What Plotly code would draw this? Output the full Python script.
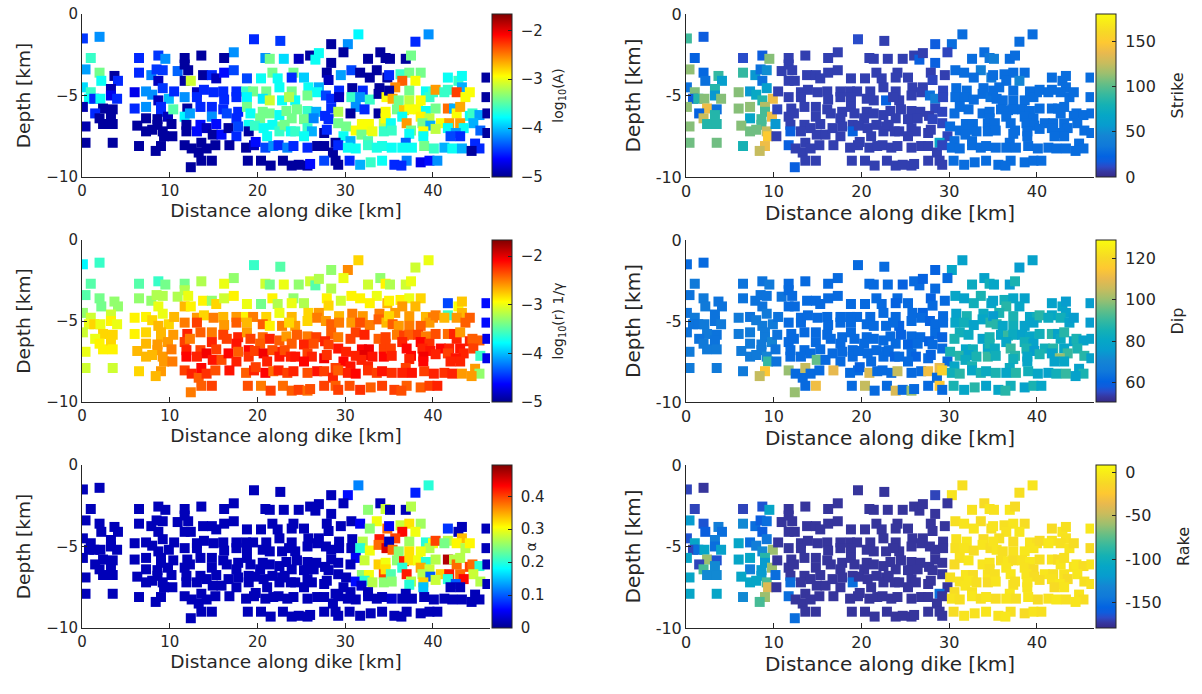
import plotly.graph_objects as go

# ---------------- data (one entry per event, same order in all lists) ----------------
x_km = [
    0.1, 2.0, 1.0, 0.4, 2.0, 2.2, 3.7, 4.1, 0.1, 1.0, 0.8, 1.4, 2.1, 3.3, 3.3, 4.0, 0.1, 2.4, 3.5, 1.5,
    2.0, 2.4, 3.3, 3.5, 0.4, 0.4, 3.5, 6.5, 8.7, 9.5, 6.5, 7.9, 8.5, 9.2, 8.7, 9.2, 10.9, 6.0, 7.3, 8.0,
    8.7, 9.9, 10.5, 6.0, 7.3, 9.0, 9.0, 9.8, 10.4, 7.3, 6.3, 7.3, 8.6, 8.6, 9.2, 10.2, 9.35, 10.3, 6.5, 9.0,
    8.4, 8.0,
    19.6, 22.6, 17.3, 13.6, 16.2, 11.7, 20.9, 21.4, 23.0, 11.7, 12.1, 13.8, 14.8, 15.3, 16.2, 17.3, 18.8, 20.4, 21.7, 22.3,
    11.7, 12.4, 22.5, 13.1, 13.9, 15.0, 16.1, 17.6, 18.7, 19.5, 21.0, 11.7, 13.1, 16.2, 17.6, 18.8, 20.6, 21.4, 22.8,
    12.0, 13.5, 14.8, 16.1, 17.8, 18.8, 19.2, 20.6, 21.4, 22.5, 11.7, 12.3, 14.8, 16.5, 17.6, 20.3, 22.8,
    11.9, 11.9, 13.5, 13.1, 14.2, 15.3, 14.9, 15.9, 16.7, 17.6, 17.8, 19.0, 19.0, 19.7, 20.7, 21.1, 21.7, 22.5,
    11.7, 12.5, 13.3, 13.6, 14.2, 15.2, 16.8, 18.7, 19.6, 19.8, 20.9, 21.8, 22.4, 13.6, 14.8, 12.4, 18.9, 20.4, 21.5, 22.9,
    31.5, 30.3, 28.4, 24.7, 26.0, 26.6, 27.0, 29.8, 32.6, 34.0, 34.6, 28.4, 30.7,
    31.7, 33.6, 29.5, 27.9, 24.1, 23.9, 25.3, 28.1, 32.8, 34.8, 25.8, 27.0, 29.3, 30.8, 32.0, 33.9,
    23.9, 24.3, 25.7, 26.8, 27.8, 28.4, 29.3, 30.7, 31.7, 32.8, 33.8, 34.7, 23.6, 31.2, 28.4, 29.2, 32.2, 30.6, 33.8, 23.3,
    24.5, 25.7, 26.7, 27.7, 28.1, 23.9, 25.3, 26.4, 29.2, 30.1, 31.9, 32.7, 31.2, 32.2, 33.1, 34.4, 34.4, 31.85, 23.1, 23.8,
    24.3, 25.7, 26.2, 25.3, 27.6, 27.9, 29.8, 32.6, 30.6, 28.9, 23.4, 24.1, 25.7, 26.8, 27.6, 28.6, 29.2, 30.3, 31.2, 32.6,
    33.6, 34.2, 23.9, 24.7, 25.7, 26.0, 27.6, 28.9, 29.2, 30.5, 31.7, 32.9, 34.2,
    39.5, 38.0, 35.1, 36.9, 37.5, 35.0, 36.3, 37.3, 38.6, 36.5, 38.0, 35.7, 35.0, 41.7, 42.9, 43.3,
    43.3, 46.1, 37.3, 39.2, 40.0, 39.6, 40.3, 41.7, 41.3, 42.7, 43.7, 44.2,
    35.4, 36.1, 37.3, 38.6, 46.1, 34.6, 35.9, 36.7, 37.3, 38.3, 39.2, 40.3, 41.7, 42.4, 42.7, 43.1, 44.2, 44.5, 45.3, 46.2,
    34.6, 36.5, 38.6, 39.6, 37.0, 35.2, 38.8, 39.7, 40.9, 41.85, 43.1, 44.6, 43.5,
    35.3, 37.5, 38.9, 40.3, 41.7, 42.6, 37.3, 38.9, 42.0, 43.1, 45.4, 46.2,
    36.9, 35.3, 36.5, 37.6, 39.0, 40.1, 41.3, 42.2, 43.3, 44.8, 45.3, 44.4,
    37.0, 35.6, 36.4, 38.6, 39.6, 40.5,
]

depth_km = [
    -1.5, -1.4, -2.7, -3.4, -3.6, -4.1, -3.8, -4.1, -4.5, -4.8, -5.2, -5.2, -5.2, -4.6, -5.0, -5.2, -5.7, -5.8, -5.85, -6.1,
    -6.4, -6.75, -6.2, -6.75, -6.9, -7.9, -7.9, -2.7, -2.55, -2.75, -3.6, -3.75, -3.4, -3.45, -4.1, -4.55, -3.5, -4.8, -4.75, -4.95,
    -5.3, -5.2, -4.75, -5.8, -5.7, -5.7, -6.0, -6.3, -5.85, -6.4, -6.85, -7.2, -6.45, -6.8, -7.2, -6.75, -7.5, -7.5, -8.1, -8.1,
    -8.4, -7.1,
    -1.55, -1.65, -2.35, -2.55, -2.7, -2.7, -2.7, -2.75, -2.75, -3.1, -3.45, -3.75, -3.75, -3.95, -3.6, -3.45, -3.95, -3.95, -3.6, -3.95,
    -4.1, -4.1, -4.5, -4.8, -4.65, -4.8, -4.75, -4.75, -4.75, -4.75, -4.75, -5.1, -5.1, -5.25, -5.1, -5.1, -5.2, -5.3, -5.3,
    -5.8, -5.7, -5.7, -5.85, -6.0, -5.7, -6.1, -6.0, -6.1, -6.2, -6.3, -6.1, -6.3, -6.1, -6.4, -6.4, -6.9,
    -6.8, -7.2, -6.8, -7.2, -7.0, -6.75, -7.4, -7.4, -7.0, -7.5, -6.9, -6.8, -7.2, -6.85, -7.0, -7.5, -6.8, -7.2,
    -8.05, -8.25, -8.5, -7.9, -8.25, -8.05, -8.05, -8.2, -8.05, -7.85, -8.2, -8.1, -8.05, -9.0, -9.0, -9.4, -9.0, -9.0, -9.3, -9.0,
    -1.25, -1.85, -1.85, -2.75, -2.55, -2.8, -2.4, -2.35, -2.75, -2.35, -2.7, -3.0, -3.45,
    -3.6, -3.45, -3.75, -3.6, -3.6, -3.9, -3.9, -4.05, -3.9, -3.9, -4.5, -4.5, -4.7, -4.55, -4.7, -4.55,
    -4.75, -5.3, -5.0, -4.8, -5.0, -5.2, -5.1, -5.1, -5.1, -5.25, -4.9, -5.1, -5.1, -5.7, -5.8, -6.0, -5.85, -6.1, -6.1, -5.95,
    -5.85, -5.95, -6.0, -6.25, -6.45, -6.4, -6.45, -6.4, -6.7, -6.9, -6.75, -6.75, -7.15, -7.1, -7.2, -6.7, -7.2, -7.4, -6.8, -7.2,
    -7.2, -7.0, -7.2, -7.5, -7.3, -7.1, -7.5, -7.8, -7.8, -7.9, -8.2, -8.1, -8.2, -8.1, -8.1, -8.5, -8.05, -8.2, -8.25, -8.05,
    -8.2, -8.1, -9.3, -9.25, -9.3, -9.2, -9.0, -9.0, -9.25, -9.0, -9.25, -9.1, -9.0,
    -1.25, -1.7, -2.75, -2.75, -2.55, -3.75, -3.7, -3.6, -3.6, -4.1, -4.1, -4.5, -4.7, -3.9, -4.1, -3.8,
    -4.5, -3.9, -4.7, -4.75, -4.8, -5.1, -4.65, -4.65, -4.8, -4.8, -5.1, -4.8,
    -5.2, -5.3, -5.3, -5.3, -5.1, -6.0, -5.85, -5.9, -5.85, -5.85, -5.95, -5.8, -5.8, -5.8, -6.1, -5.7, -6.25, -6.1, -6.2, -6.1,
    -6.4, -6.3, -6.3, -6.4, -6.7, -6.7, -6.7, -6.85, -6.7, -6.7, -6.7, -6.7, -7.0,
    -7.15, -7.15, -7.2, -7.05, -7.0, -7.3, -7.35, -7.5, -7.5, -7.5, -7.15, -7.3,
    -7.9, -8.2, -8.2, -8.2, -8.1, -8.25, -8.2, -8.25, -8.25, -7.95, -8.25, -8.4,
    -9.0, -9.25, -9.3, -9.1, -9.0, -9.0,
]

log_a = [
    -4.45, -4.15, -3.6, -4.1, -3.4, -3.75, -4.95, -4.5, -3.9, -3.6, -3.75, -4.5, -3.75, -4.9, -4.7, -4.5, -4.9, -4.95, -4.95, -4.5,
    -4.95, -4.95, -4.95, -4.95, -4.9, -4.95, -4.95, -4.5, -4.45, -4.15, -4.5, -4.2, -4.45, -4.45, -4.85, -4.45, -4.3, -4.7, -4.15, -4.15,
    -4.85, -4.0, -4.5, -4.5, -4.15, -4.5, -4.5, -4.85, -3.5, -4.95, -4.95, -4.95, -4.95, -4.95, -4.95, -4.95, -4.95, -4.95, -4.95, -4.95,
    -4.95, -4.95,
    -4.5, -4.45, -4.15, -4.95, -4.95, -4.95, -4.15, -3.4, -3.9, -4.95, -4.95, -4.95, -4.5, -4.85, -4.6, -4.4, -4.4, -3.75, -3.4, -3.75,
    -4.95, -3.1, -3.75, -4.85, -4.5, -4.5, -4.5, -4.5, -3.6, -3.4, -3.4, -4.15, -4.5, -4.5, -4.5, -3.8, -3.85, -3.1, -3.75,
    -4.95, -4.5, -4.5, -4.5, -4.5, -3.4, -3.75, -3.4, -3.4, -3.75, -3.8, -4.1, -4.15, -4.4, -4.5, -3.4, -3.4,
    -4.95, -4.95, -4.6, -4.6, -4.85, -4.6, -4.95, -4.6, -4.95, -4.5, -4.4, -3.75, -4.95, -3.6, -3.75, -3.75, -3.75, -3.6,
    -4.95, -4.95, -4.95, -4.95, -4.95, -4.95, -4.95, -4.95, -4.85, -4.6, -4.4, -4.15, -4.5, -4.95, -4.95, -4.95, -4.95, -4.95, -4.95, -4.95,
    -3.8, -4.15, -4.95, -4.85, -4.95, -3.75, -3.75, -4.95, -4.95, -4.95, -4.95, -4.95, -4.4,
    -4.95, -4.95, -4.1, -4.95, -3.4, -4.5, -3.95, -4.85, -4.95, -4.95, -3.75, -4.05, -4.5, -4.95, -4.5, -4.95,
    -3.4, -3.75, -3.4, -3.75, -4.4, -4.5, -4.85, -3.6, -4.15, -3.6, -4.95, -2.95, -3.2, -4.15, -4.5, -3.2, -4.5, -4.95, -4.95, -3.4,
    -3.4, -3.6, -4.05, -4.5, -4.5, -3.4, -3.4, -4.2, -3.4, -3.4, -2.95, -2.95, -2.95, -2.95, -3.0, -3.15, -3.6, -3.4, -3.4, -3.75,
    -3.6, -3.6, -4.05, -3.75, -4.95, -4.5, -3.75, -3.5, -4.05, -4.95, -4.2, -4.5, -4.5, -4.95, -4.95, -4.95, -4.5, -3.75, -3.75, -3.6,
    -3.7, -3.7, -4.95, -4.95, -4.95, -4.6, -4.4, -4.95, -4.95, -4.5, -4.05, -3.6, -3.75,
    -4.15, -4.5, -4.95, -4.95, -3.4, -4.5, -3.6, -3.4, -3.4, -2.4, -2.95, -2.55, -4.95, -3.75, -3.6, -3.75,
    -4.05, -4.95, -3.4, -3.75, -3.6, -3.6, -2.6, -3.6, -3.6, -2.3, -2.95, -2.95,
    -2.65, -3.4, -3.15, -2.95, -4.95, -2.95, -3.4, -2.75, -2.95, -2.95, -3.75, -3.4, -2.45, -4.05, -2.95, -2.65, -3.75, -3.6, -4.1, -4.95,
    -2.95, -3.75, -2.9, -3.15, -2.6, -3.75, -3.4, -4.05, -2.95, -2.6, -2.6, -4.05, -3.75,
    -3.6, -3.4, -2.95, -3.15, -3.75, -4.1, -3.75, -3.75, -4.4, -4.5, -4.3, -4.95,
    -4.3, -3.75, -3.75, -3.75, -3.4, -3.6, -4.05, -3.75, -4.05, -4.5, -4.5, -4.95,
    -4.2, -4.5, -4.5, -4.7, -4.6, -4.15,
]

log_r = [
    -3.8, -3.6, -3.5, -3.5, -3.4, -3.4, -3.3, -3.3, -3.3, -3.1, -3.0, -2.8, -3.0, -3.1, -2.9, -3.0, -3.1, -2.8, -2.8, -3.0,
    -2.9, -2.9, -2.8, -2.9, -3.0, -3.1, -3.1, -3.5, -3.6, -3.4, -3.3, -3.3, -3.2, -3.2, -3.0, -3.0, -3.2, -2.9, -2.9, -2.8,
    -2.7, -2.8, -2.7, -2.9, -2.8, -2.7, -2.7, -2.6, -2.6, -2.7, -2.7, -2.7, -2.6, -2.6, -2.6, -2.5, -2.6, -2.5, -2.8, -2.6,
    -2.7, -2.7,
    -3.6, -3.5, -3.3, -3.2, -3.0, -3.4, -3.1, -3.4, -3.0, -3.2, -3.0, -2.9, -3.3, -2.8, -3.1, -2.9, -3.0, -3.4, -2.9, -3.2,
    -2.7, -2.9, -3.0, -2.6, -2.8, -2.5, -2.7, -2.6, -2.9, -2.5, -2.8, -2.5, -2.3, -2.6, -2.4, -2.7, -2.4, -2.9, -2.5,
    -2.2, -2.4, -2.5, -2.3, -2.2, -2.6, -2.3, -2.45, -2.2, -2.4, -2.3, -2.5, -2.2, -2.3, -2.15, -2.4, -2.2,
    -2.2, -2.1, -2.3, -2.2, -2.05, -2.3, -2.15, -2.35, -2.1, -2.2, -2.4, -2.1, -2.25, -2.3, -2.05, -2.2, -2.35, -2.15,
    -2.3, -2.2, -2.4, -2.1, -2.25, -2.35, -2.15, -2.4, -2.2, -2.3, -2.1, -2.45, -2.2, -2.4, -2.3, -2.5, -2.35, -2.5, -2.3, -2.45,
    -2.8, -2.55, -3.3, -3.3, -3.1, -3.5, -3.2, -3.0, -3.1, -3.3, -2.9, -3.2, -2.9,
    -2.9, -3.0, -3.1, -2.9, -3.3, -3.0, -3.2, -2.8, -2.9, -2.7, -2.8, -2.6, -2.7, -2.5, -2.6, -2.5,
    -2.7, -2.6, -2.8, -2.5, -2.6, -2.4, -2.5, -2.6, -2.35, -2.5, -2.4, -2.7, -2.8, -2.3, -2.4, -2.5, -2.2, -2.3, -2.4, -2.6,
    -2.4, -2.5, -2.3, -2.2, -2.3, -2.4, -2.2, -2.35, -2.15, -2.2, -2.1, -2.05, -2.2, -2.0, -2.15, -2.3, -2.1, -2.2, -2.35, -2.2,
    -2.15, -2.3, -2.2, -2.1, -2.05, -2.25, -2.1, -2.2, -2.15, -2.3, -2.3, -2.2, -2.35, -2.15, -2.3, -2.2, -2.4, -2.2, -2.1, -2.25,
    -2.3, -2.15, -2.4, -2.3, -2.45, -2.35, -2.3, -2.4, -2.3, -2.35, -2.25, -2.4, -2.3,
    -3.0, -3.1, -3.2, -3.1, -3.0, -2.9, -2.9, -3.0, -2.8, -2.6, -2.7, -2.6, -2.8, -4.4, -2.95, -2.75,
    -2.7, -4.6, -2.6, -2.7, -2.5, -2.6, -2.5, -3.6, -2.7, -2.6, -2.4, -2.4,
    -2.4, -2.6, -2.5, -2.4, -4.6, -2.3, -2.5, -2.3, -2.4, -2.3, -2.5, -2.35, -2.45, -2.2, -2.2, -2.6, -2.2, -2.4, -2.4, -4.7,
    -2.3, -2.2, -2.1, -2.25, -2.1, -2.3, -2.2, -2.15, -2.1, -2.2, -2.15, -2.3, -2.2,
    -2.2, -2.1, -2.05, -2.2, -2.3, -2.15, -2.2, -2.1, -2.2, -2.2, -3.6, -4.7,
    -2.3, -2.25, -2.2, -2.15, -2.3, -2.2, -2.25, -2.2, -2.6, -2.6, -3.3, -2.6,
    -2.4, -2.3, -2.35, -2.4, -2.3, -2.2,
]

alpha = [
    0.02, 0.02, 0.02, 0.02, 0.02, 0.02, 0.02, 0.02, 0.02, 0.02, 0.02, 0.02, 0.02, 0.02, 0.02, 0.02, 0.02, 0.02, 0.02, 0.02,
    0.02, 0.02, 0.02, 0.02, 0.02, 0.02, 0.02, 0.02, 0.02, 0.02, 0.02, 0.02, 0.02, 0.02, 0.02, 0.02, 0.02, 0.02, 0.02, 0.02,
    0.02, 0.02, 0.02, 0.02, 0.02, 0.02, 0.02, 0.02, 0.02, 0.02, 0.02, 0.02, 0.02, 0.02, 0.02, 0.02, 0.02, 0.02, 0.02, 0.02,
    0.02, 0.02,
    0.02, 0.02, 0.02, 0.02, 0.02, 0.02, 0.02, 0.02, 0.02, 0.02, 0.02, 0.02, 0.02, 0.02, 0.02, 0.02, 0.02, 0.02, 0.02, 0.02,
    0.02, 0.02, 0.02, 0.02, 0.02, 0.02, 0.02, 0.02, 0.02, 0.02, 0.02, 0.02, 0.02, 0.02, 0.02, 0.02, 0.02, 0.02, 0.02,
    0.02, 0.02, 0.02, 0.02, 0.02, 0.02, 0.02, 0.02, 0.02, 0.02, 0.02, 0.02, 0.02, 0.02, 0.02, 0.02, 0.02,
    0.02, 0.02, 0.02, 0.02, 0.02, 0.02, 0.02, 0.02, 0.02, 0.02, 0.02, 0.02, 0.02, 0.02, 0.02, 0.02, 0.02, 0.02,
    0.02, 0.02, 0.02, 0.02, 0.02, 0.02, 0.02, 0.02, 0.02, 0.02, 0.02, 0.02, 0.02, 0.02, 0.02, 0.02, 0.02, 0.02, 0.02, 0.02,
    0.12, 0.06, 0.02, 0.02, 0.02, 0.02, 0.02, 0.02, 0.25, 0.02, 0.28, 0.02, 0.02,
    0.05, 0.3, 0.02, 0.02, 0.02, 0.02, 0.02, 0.02, 0.25, 0.38, 0.02, 0.02, 0.02, 0.02, 0.27, 0.42,
    0.02, 0.02, 0.02, 0.02, 0.02, 0.02, 0.02, 0.02, 0.2, 0.3, 0.38, 0.45, 0.02, 0.05, 0.02, 0.02, 0.28, 0.02, 0.33, 0.02,
    0.02, 0.02, 0.02, 0.02, 0.02, 0.02, 0.02, 0.02, 0.02, 0.02, 0.25, 0.3, 0.06, 0.2, 0.27, 0.4, 0.25, 0.03, 0.02, 0.02,
    0.02, 0.02, 0.02, 0.02, 0.02, 0.02, 0.02, 0.02, 0.02, 0.02, 0.02, 0.02, 0.02, 0.02, 0.02, 0.02, 0.02, 0.02, 0.02, 0.02,
    0.02, 0.02, 0.02, 0.02, 0.02, 0.02, 0.02, 0.02, 0.02, 0.02, 0.02, 0.02, 0.02,
    0.2, 0.07, 0.02, 0.02, 0.27, 0.05, 0.28, 0.32, 0.26, 0.43, 0.3, 0.4, 0.02, 0.08, 0.02, 0.02,
    0.34, 0.02, 0.26, 0.2, 0.3, 0.27, 0.4, 0.27, 0.24, 0.31, 0.27, 0.31,
    0.38, 0.25, 0.32, 0.3, 0.02, 0.3, 0.25, 0.42, 0.32, 0.3, 0.2, 0.27, 0.47, 0.27, 0.38, 0.27, 0.4, 0.38, 0.2, 0.02,
    0.32, 0.2, 0.35, 0.28, 0.42, 0.22, 0.27, 0.1, 0.33, 0.42, 0.38, 0.28, 0.43,
    0.25, 0.27, 0.33, 0.28, 0.2, 0.1, 0.2, 0.15, 0.02, 0.02, 0.27, 0.02,
    0.02, 0.03, 0.02, 0.02, 0.02, 0.02, 0.02, 0.02, 0.02, 0.02, 0.02, 0.02,
    0.02, 0.02, 0.02, 0.02, 0.02, 0.02,
]

strike = [
    93, 18, 22, 112, 25, 30, 90, 60, 30, 108, 18, 85, 110, 85, 55, 110, 112, 140, 30, 22,
    126, 85, 85, 85, 110, 105, 105, 12, 18, 110, 90, 55, 30, 50, 30, 60, 8, 110, 55, 70,
    85, 140, 8, 110, 112, 120, 95, 140, 10, 65, 110, 105, 95, 95, 125, 55, 150, 8, 80, 140,
    125, 105,
    12, 8, 8, 8, 8, 8, 8, 8, 8, 8, 8, 8, 8, 8, 8, 8, 8, 8, 8, 8,
    8, 8, 8, 8, 8, 8, 8, 8, 8, 8, 8, 8, 8, 8, 8, 8, 8, 8, 22,
    8, 8, 8, 8, 8, 8, 8, 8, 8, 8, 8, 8, 8, 8, 8, 8, 8,
    8, 20, 8, 8, 8, 8, 8, 8, 8, 8, 8, 8, 22, 8, 8, 8, 8, 8,
    20, 8, 8, 8, 8, 8, 8, 8, 8, 8, 8, 8, 8, 8, 8, 20, 8, 8, 8, 8,
    28, 28, 18, 8, 8, 20, 8, 10, 28, 28, 33, 20, 28,
    28, 40, 8, 8, 8, 8, 8, 10, 28, 35, 8, 8, 10, 28, 28, 28,
    8, 8, 8, 8, 30, 40, 10, 28, 28, 28, 28, 30, 8, 28, 10, 10, 28, 28, 28, 8,
    8, 8, 8, 8, 10, 8, 8, 8, 10, 28, 28, 28, 28, 28, 28, 28, 28, 28, 8, 8,
    8, 8, 8, 8, 8, 8, 10, 28, 28, 65, 8, 8, 8, 8, 8, 8, 10, 28, 28, 28,
    28, 28, 8, 8, 8, 8, 8, 8, 8, 28, 28, 28, 28,
    28, 28, 40, 28, 28, 28, 28, 28, 28, 28, 45, 28, 28, 28, 28, 28,
    28, 28, 28, 28, 28, 28, 28, 28, 28, 28, 28, 28,
    28, 28, 28, 28, 28, 28, 28, 28, 28, 28, 28, 28, 28, 28, 28, 28, 28, 28, 28, 28,
    28, 28, 28, 28, 28, 28, 28, 28, 28, 28, 28, 28, 28,
    28, 28, 28, 28, 28, 28, 28, 28, 28, 28, 28, 28,
    28, 28, 28, 28, 28, 28, 28, 28, 28, 28, 28, 28,
    28, 28, 28, 28, 28, 28,
]

dip = [
    62, 62, 66, 64, 66, 66, 64, 64, 64, 66, 64, 64, 66, 64, 64, 66, 64, 66, 64, 64,
    66, 66, 64, 66, 66, 66, 66, 64, 64, 66, 64, 64, 64, 64, 64, 66, 64, 66, 64, 66,
    66, 66, 64, 66, 66, 66, 66, 70, 64, 66, 66, 66, 66, 66, 70, 64, 90, 64, 66, 115,
    105, 66,
    62, 62, 62, 62, 62, 62, 62, 62, 62, 62, 62, 62, 62, 62, 62, 62, 62, 62, 62, 62,
    62, 62, 62, 62, 62, 62, 62, 62, 62, 62, 62, 62, 62, 62, 62, 62, 62, 62, 62,
    62, 62, 62, 62, 62, 62, 62, 62, 62, 62, 62, 62, 62, 62, 62, 62, 62,
    62, 62, 62, 62, 62, 62, 95, 62, 62, 62, 62, 62, 62, 62, 62, 62, 62, 62,
    100, 62, 62, 105, 62, 62, 110, 62, 62, 60, 108, 62, 62, 62, 112, 100, 62, 105, 62, 62,
    78, 80, 60, 60, 62, 62, 60, 62, 82, 78, 84, 62, 80,
    78, 86, 62, 60, 62, 60, 62, 62, 84, 80, 62, 60, 62, 78, 86, 82,
    62, 60, 62, 62, 60, 62, 62, 80, 84, 78, 80, 88, 62, 84, 62, 60, 82, 86, 78, 62,
    60, 62, 62, 60, 62, 62, 60, 62, 62, 86, 80, 84, 88, 78, 86, 80, 90, 82, 62, 60,
    62, 62, 60, 62, 62, 60, 62, 86, 80, 110, 62, 105, 62, 62, 112, 62, 118, 84, 88, 80,
    86, 82, 108, 62, 100, 62, 62, 115, 62, 86, 80, 88, 78,
    78, 76, 80, 76, 86, 78, 84, 80, 78, 88, 80, 86, 76, 78, 80, 76,
    78, 76, 86, 80, 84, 78, 88, 80, 82, 84, 78, 76,
    88, 80, 84, 78, 76, 86, 80, 90, 82, 78, 80, 84, 88, 78, 82, 88, 78, 86, 78, 78,
    86, 80, 84, 78, 90, 82, 86, 76, 84, 88, 80, 86, 90,
    84, 88, 80, 86, 78, 100, 84, 80, 78, 80, 88, 78,
    82, 86, 80, 88, 84, 80, 78, 84, 90, 78, 86, 78,
    84, 80, 88, 78, 86, 80,
]

rake = [
    -170, -175, -170, -120, -165, -160, -140, -150, -165, -110, -170, -150, -110, -140, -150, -115, -110, -60, -165, -170,
    -80, -130, -130, -130, -110, -110, -110, -170, -165, -110, -130, -150, -160, -150, -160, -145, -175, -110, -150, -140,
    -130, -60, -175, -110, -110, -90, -120, -60, -175, -140, -110, -110, -120, -120, -80, -150, -40, -175, -130, -60,
    -80, -110,
    -175, -175, -175, -175, -175, -175, -175, -175, -175, -175, -175, -175, -175, -175, -175, -175, -175, -175, -175, -175,
    -175, -175, -175, -175, -175, -175, -175, -175, -175, -175, -175, -175, -175, -175, -175, -175, -175, -175, -175,
    -175, -175, -175, -175, -175, -175, -175, -175, -175, -175, -175, -175, -175, -175, -175, -175, -175,
    -175, -150, -175, -175, -175, -175, -175, -175, -175, -175, -175, -175, -150, -175, -175, -175, -175, -175,
    -150, -175, -175, -175, -175, -175, -175, -175, -175, -175, -175, -175, -175, -175, -175, -150, -175, -175, -175, -175,
    -8, -5, -170, -175, -175, -175, -175, -175, -6, -10, -4, -175, -8,
    -5, -9, -175, -175, -175, -175, -175, -175, -4, -8, -175, -175, -175, -6, -3, -10,
    -175, -175, -175, -175, -175, -175, -175, -7, -5, -9, -4, -8, -175, -6, -175, -175, -3, -10, -5, -175,
    -175, -175, -175, -175, -175, -175, -175, -175, -175, -7, -4, -9, -6, -3, -8, -5, -10, -4, -175, -175,
    -175, -175, -175, -175, -175, -175, -175, -6, -9, -150, -175, -175, -175, -175, -175, -175, -175, -5, -8, -3,
    -7, -4, -175, -175, -175, -175, -175, -175, -175, -9, -5, -6, -4,
    -4, -8, -6, -3, -10, -5, -7, -4, -9, -6, -3, -8, -5, -10, -4, -7,
    -6, -3, -9, -5, -8, -4, -10, -6, -3, -7, -5, -9,
    -4, -8, -6, -3, -10, -5, -7, -4, -9, -6, -3, -8, -5, -10, -4, -7, -6, -3, -9, -5,
    -8, -4, -6, -10, -3, -7, -5, -9, -4, -8, -6, -3, -10,
    -5, -7, -4, -9, -6, -3, -8, -5, -10, -4, -7, -6,
    -3, -9, -5, -8, -4, -10, -6, -3, -7, -5, -9, -4,
    -8, -6, -3, -10, -5, -7,
]

x_ticks = [0, 10, 20, 30, 40]
depth_ticks = [-10, -5, 0]

# ---------------- colour maps ----------------
jet = [
    [0.0, "rgb(0,0,143)"], [0.111, "rgb(0,0,255)"], [0.365, "rgb(0,255,255)"],
    [0.619, "rgb(255,255,0)"], [0.873, "rgb(255,0,0)"], [1.0, "rgb(128,0,0)"],
]
parula = [
    [0.0, "rgb(53,42,135)"], [0.032, "rgb(54,55,160)"], [0.063, "rgb(44,74,199)"],
    [0.095, "rgb(15,92,221)"], [0.127, "rgb(3,99,225)"], [0.19, "rgb(16,121,218)"],
    [0.254, "rgb(20,133,212)"], [0.317, "rgb(7,156,207)"], [0.381, "rgb(6,167,198)"],
    [0.444, "rgb(21,177,180)"], [0.508, "rgb(56,185,158)"], [0.571, "rgb(101,190,134)"],
    [0.635, "rgb(156,191,111)"], [0.698, "rgb(200,188,93)"], [0.762, "rgb(233,185,78)"],
    [0.825, "rgb(254,200,50)"], [0.889, "rgb(247,216,38)"], [1.0, "rgb(249,251,14)"],
]

W, H = 1202, 694
INK = "#262626"
FONT = "DejaVu Sans, Verdana, sans-serif"
NB = "\u00a0"
cols = [(82, 490), (686, 1094)]             # plot-area left/right in pixels
rows = [(14, 177), (240, 402), (465, 628)]  # plot-area top/bottom in pixels
col_fonts = [dict(tick=15, title=18.5, cbtick=15, cbtitle=14, ystand=10, lead=1, trail=1),
             dict(tick=16, title=20, cbtick=16, cbtitle=16, ystand=9, lead=1, trail=2)]

panels = [
    dict(vals=log_a, cs=jet, cmin=-5, cmax=-1.667, tv=[-5, -4, -3, -2], tt=["−5", "−4", "−3", "−2"],
         title="log<sub>10</sub>(A)", col=0, row=0, minus="−"),
    dict(vals=log_r, cs=jet, cmin=-5, cmax=-1.667, tv=[-5, -4, -3, -2], tt=["−5", "−4", "−3", "−2"],
         title="log<sub>10</sub>(r) 1/γ", col=0, row=1, minus="−"),
    dict(vals=alpha, cs=jet, cmin=0, cmax=0.495, tv=[0, 0.1, 0.2, 0.3, 0.4], tt=["0", "0.1", "0.2", "0.3", "0.4"],
         title="α", col=0, row=2, minus="−"),
    dict(vals=strike, cs=parula, cmin=0, cmax=180, tv=[0, 50, 100, 150], tt=["0", "50", "100", "150"],
         title="Strike", col=1, row=0, minus="-"),
    dict(vals=dip, cs=parula, cmin=50.5, cmax=129, tv=[60, 80, 100, 120], tt=["60", "80", "100", "120"],
         title="Dip", col=1, row=1, minus="-"),
    dict(vals=rake, cs=parula, cmin=-180, cmax=9, tv=[-150, -100, -50, 0], tt=["-150", "-100", "-50", "0"],
         title="Rake", col=1, row=2, minus="-"),
]

fig = go.Figure()
layout = dict(
    template="none",
    width=W, height=H, autosize=False,
    margin=dict(l=0, r=0, t=0, b=0, autoexpand=False),
    paper_bgcolor="white", plot_bgcolor="white",
    font=dict(family=FONT, color=INK, size=15),
    showlegend=False,
)

for i, p in enumerate(panels):
    n = i + 1
    f = col_fonts[p["col"]]
    x0, x1 = cols[p["col"]]
    y0, y1 = rows[p["row"]]
    xa = "x" if n == 1 else f"x{n}"
    ya = "y" if n == 1 else f"y{n}"
    cb_text = [NB * f["lead"] + t + NB * f["trail"] for t in p["tt"]]
    fig.add_trace(go.Scatter(
        x=x_km, y=depth_km, mode="markers", xaxis=xa, yaxis=ya,
        marker=dict(
            symbol="square", size=10, color=p["vals"], colorscale=p["cs"],
            cmin=p["cmin"], cmax=p["cmax"], line=dict(width=0),
            showscale=True,
            colorbar=dict(
                x=(x1 + 2) / W, xanchor="left", xpad=0,
                y=1 - (y0 + y1) / 2 / H, yanchor="middle", ypad=0,
                len=(y1 - y0) / H, lenmode="fraction",
                thickness=20, thicknessmode="pixels",
                outlinewidth=1, outlinecolor=INK,
                ticks="inside", ticklen=4, tickcolor=INK, tickwidth=1,
                tickvals=p["tv"], ticktext=cb_text,
                tickfont=dict(size=f["cbtick"], color=INK, family=FONT),
                title=dict(text=p["title"], side="right",
                           font=dict(size=f["cbtitle"], color=INK, family=FONT)),
            ),
        ),
        hoverinfo="skip",
    ))
    m = p["minus"]
    layout["xaxis" if n == 1 else f"xaxis{n}"] = dict(
        domain=[x0 / W, x1 / W], anchor=ya, range=[0, 46.5], automargin=False,
        tickvals=x_ticks, ticktext=[str(v) for v in x_ticks],
        ticks="inside", ticklen=5, tickcolor=INK, showline=True, linecolor=INK, linewidth=1,
        showgrid=False, zeroline=False, tickfont=dict(size=f["tick"]),
        title=dict(text="Distance along dike [km]", font=dict(size=f["title"]), standoff=3),
    )
    layout["yaxis" if n == 1 else f"yaxis{n}"] = dict(
        domain=[1 - y1 / H, 1 - y0 / H], anchor=xa, range=[-10, 0], automargin=False,
        tickvals=depth_ticks, ticktext=[f"{m}10", f"{m}5", "0"],
        ticks="inside", ticklen=5, tickcolor=INK, showline=True, linecolor=INK, linewidth=1,
        showgrid=False, zeroline=False, tickfont=dict(size=f["tick"]),
        title=dict(text="Depth [km]", font=dict(size=f["title"]), standoff=f["ystand"]),
    )

fig.update_layout(**layout)
fig.write_html("out.html", config={"displayModeBar": False},
               post_script="document.body.style.margin='0';document.body.style.overflow='hidden';")
